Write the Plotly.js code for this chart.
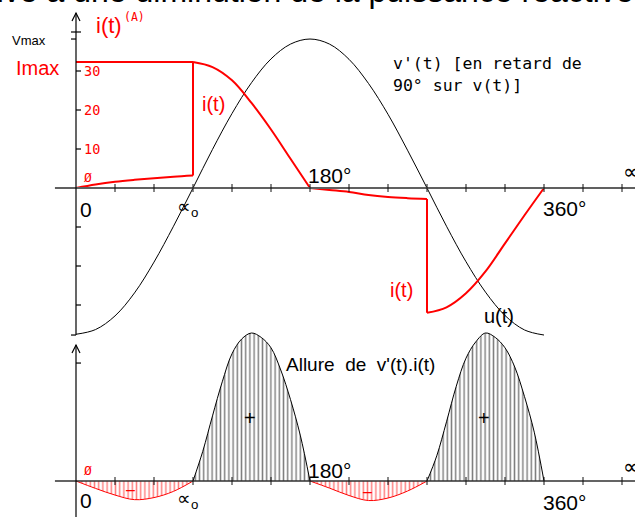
<!DOCTYPE html>
<html>
<head>
<meta charset="utf-8">
<script src="https://cdn.plot.ly/plotly-3.0.1.min.js"></script>
<style>
  html, body { margin: 0; padding: 0; background: #fff; }
  #chart { width: 635px; height: 517px; }
</style>
</head>
<body>
<div id="chart"></div>
<script>
// ---- Data -------------------------------------------------------------
// Lagging voltage v'(t) (90° behind v(t)), plotted on the current scale
const vAngle = [0, 15, 30, 45, 60, 75, 90, 105, 120, 135, 150, 165, 180,
                195, 210, 225, 240, 255, 270, 285, 300, 315, 330, 345, 360];
const vValue = [-37.5, -36.3, -32.8, -26.9, -19.0, -9.8, 0, 9.9, 19.1, 27.0, 33.1, 36.9, 38.2,
                36.9, 33.0, 26.8, 18.9, 9.7, 0, -9.8, -18.9, -26.7, -32.7, -36.4, -37.7];

// Current i(t) in A; a repeated angle is a step (firing at α0 and α0 + 180°)
const iAngle = [0, 15, 30, 45, 60, 75, 90, 90, 105, 120, 135, 150, 165, 180,
                195, 210, 225, 240, 255, 270, 270, 285, 300, 315, 330, 345, 360];
const iValue = [0, 0.9, 1.6, 2.1, 2.5, 2.9, 3.2, 32.3, 31.0, 27.6, 21.8, 15.0, 7.5, 0,
                -0.5, -1.0, -1.8, -2.3, -2.6, -2.8, -32.0, -30.6, -27.0, -21.4, -14.2, -7.0, 0];

// Imax plateau
const imaxAngle = [0, 90];
const imaxValue = [32.3, 32.3];

// Shape of the product v'(t).i(t) (relative units, peak = 100)
const pAngle = [0, 15, 30, 45, 60, 75, 90,
                97.5, 105, 112.5, 120, 127.5, 135, 142.5, 150, 157.5, 165, 172.5, 180,
                195, 210, 225, 240, 255, 270,
                277.5, 285, 292.5, 300, 307.5, 315, 322.5, 330, 337.5, 345, 352.5, 360];
const pValue = [0, -5.0, -9.5, -12.6, -11.2, -7.0, 0,
                20, 44, 67, 86, 96, 100, 97, 90, 75, 55, 31, 0,
                -4.8, -9.8, -13.2, -11.5, -6.8, 0,
                17, 40, 64, 83, 94, 100, 97, 90, 77, 57, 33, 0];

// Axis graduations
const xTicks = [30, 60, 90, 120, 150, 180, 210, 240, 270, 300, 330, 360, 390, 420];
const yTicksRight = [40, 30, 20, 10, -10, -20, -30];
const yTicksLeft = [40, 38.2, -37.7];
const yTickLabelValues = [30, 20, 10];
const vmaxLevel = 38.2;
const imaxLevel = 32.3;

// ---- Helpers ----------------------------------------------------------
const RED = '#ff0000';
const SANS = 'Liberation Sans, Arial, sans-serif';
const MONO = 'DejaVu Sans Mono, monospace';

// split a path into smooth runs (broken at steps and at zero crossings,
// where the waveform has a corner) and vertical steps
function splitSteps(xs, ys) {
  const smooth = [], steps = [];
  let cur = { x: [xs[0]], y: [ys[0]] };
  for (let k = 1; k < xs.length; k++) {
    if (xs[k] === xs[k - 1]) {
      smooth.push(cur);
      steps.push({ x: [xs[k - 1], xs[k]], y: [ys[k - 1], ys[k]] });
      cur = { x: [xs[k]], y: [ys[k]] };
    } else {
      cur.x.push(xs[k]); cur.y.push(ys[k]);
      if (ys[k] === 0 && k < xs.length - 1) {
        smooth.push(cur);
        cur = { x: [xs[k]], y: [ys[k]] };
      }
    }
  }
  smooth.push(cur);
  return { smooth, steps };
}

// split the product curve into its lobes between zero crossings
function lobes(xs, ys) {
  const out = [];
  let cur = { x: [xs[0]], y: [ys[0]] };
  for (let k = 1; k < xs.length; k++) {
    cur.x.push(xs[k]); cur.y.push(ys[k]);
    if (ys[k] === 0) {
      out.push(cur);
      cur = { x: [xs[k]], y: [ys[k]] };
    }
  }
  return out;
}

const traces = [];

// v'(t)
traces.push({
  x: vAngle, y: vValue, type: 'scatter', mode: 'lines',
  line: { color: '#000', width: 1, shape: 'spline', smoothing: 1 },
  hoverinfo: 'skip'
});

// Imax plateau
traces.push({
  x: imaxAngle, y: imaxValue, type: 'scatter', mode: 'lines',
  line: { color: RED, width: 2 }, hoverinfo: 'skip'
});

// i(t)
const iParts = splitSteps(iAngle, iValue);
iParts.smooth.forEach(p => traces.push({
  x: p.x, y: p.y, type: 'scatter', mode: 'lines',
  line: { color: RED, width: 2, shape: 'spline', smoothing: 1 }, hoverinfo: 'skip'
}));
iParts.steps.forEach(p => traces.push({
  x: p.x, y: p.y, type: 'scatter', mode: 'lines',
  line: { color: RED, width: 2 }, hoverinfo: 'skip'
}));

// v'(t).i(t) lobes with vertical hatching
lobes(pAngle, pValue).forEach(l => {
  const neg = l.y.some(v => v < 0);
  const col = neg ? RED : '#000';
  traces.push({
    x: l.x, y: l.y, yaxis: 'y2', type: 'scatter', mode: 'lines',
    line: { color: col, width: 1, shape: 'spline', smoothing: 1 },
    fill: 'tozeroy', fillcolor: 'rgba(0,0,0,0)',
    fillpattern: { shape: '|', size: 4.2, solidity: 0.35, fgcolor: col, bgcolor: 'rgba(0,0,0,0)', fillmode: 'overlay' },
    hoverinfo: 'skip'
  });
});

// ---- Axes drawn as shapes ---------------------------------------------
const shapes = [];
const AX_TOP = 44.87, AX_BOT = -37.69;   // vertical extent of upper current axis
const AX2_TOP = 91.9;                    // tip of the lower axis

shapes.push({ type: 'line', xref: 'x', yref: 'y', x0: -16.2, x1: 440, y0: 0, y1: 0,
              line: { color: '#606060', width: 2 } });
shapes.push({ type: 'line', xref: 'x', yref: 'y2', x0: -16.2, x1: 440, y0: 0, y1: 0,
              line: { color: '#303030', width: 1.6 } });
shapes.push({ type: 'line', xref: 'x', yref: 'y', x0: 0, x1: 0, y0: AX_BOT, y1: AX_TOP,
              line: { color: '#000', width: 1.2 } });
shapes.push({ type: 'line', xref: 'x', yref: 'y2', x0: 0, x1: 0, y0: -40, y1: AX2_TOP,
              line: { color: '#000', width: 1.2 } });
// arrow heads
[['y', AX_TOP], ['y2', AX2_TOP]].forEach(([ref, yv]) => shapes.push({
  type: 'path', xref: 'x', yref: ref,
  xsizemode: 'pixel', xanchor: 0, ysizemode: 'pixel', yanchor: yv,
  path: 'M-4,-8L0,0L4,-8', line: { color: '#000', width: 1.2 }
}));
// x graduations on both time axes
['y', 'y2'].forEach(ref => xTicks.forEach(d => shapes.push({
  type: 'line', xref: 'x', yref: ref, x0: d, x1: d,
  ysizemode: 'pixel', yanchor: 0, y0: -4, y1: 4,
  line: { color: '#111', width: 1 }
})));
// y graduations
yTicksRight.forEach(v => shapes.push({
  type: 'line', xref: 'x', yref: 'y', y0: v, y1: v,
  xsizemode: 'pixel', xanchor: 0, x0: 0, x1: 5, line: { color: '#000', width: 1.2 }
}));
yTicksLeft.forEach(v => shapes.push({
  type: 'line', xref: 'x', yref: 'y', y0: v, y1: v,
  xsizemode: 'pixel', xanchor: 0, x0: -5, x1: 0, line: { color: '#000', width: 1.2 }
}));
shapes.push({
  type: 'line', xref: 'x', yref: 'y2', y0: 79.7, y1: 79.7,
  xsizemode: 'pixel', xanchor: 0, x0: 0, x1: 5, line: { color: '#000', width: 1.2 }
});

// ---- Labels -------------------------------------------------------------
const annotations = [];
function lab(text, x, y, o) {
  o = o || {};
  annotations.push(Object.assign({
    text: text, x: x, y: y, xref: 'x', yref: o.yref || 'y',
    xanchor: o.xanchor || 'left', yanchor: 'middle', showarrow: false,
    font: { family: o.family || SANS, size: o.size || 21, color: o.color || '#000' }
  }, o.extra || {}));
}

// upper panel
lab('i(t)', 13.6, 41.6, { color: RED, size: 22 });
lab('(A)', 35.4, 43.8, { color: RED, size: 11.5, family: MONO });
lab('Vmax', -21.2, vmaxLevel - 0.5, { xanchor: 'right', size: 13 });
lab('Imax', -11.6, imaxLevel - 1.6, { xanchor: 'right', size: 20, color: RED });
yTickLabelValues.forEach(v => lab(String(v), 4.6, v, { color: RED, size: 13.5, family: MONO }));
lab('Ø', 4.6, 2.6, { color: RED, size: 13, family: MONO });
lab('i(t)', 95.0, 21.5, { color: RED, size: 20 });
lab('180°', 176.8, 3.1);
lab('∝', 419.5, 4.2, { size: 21 });
lab("v'(t) [en retard de", 242.5, 31.8, { family: MONO, size: 16.5 });
lab('90° sur v(t)]', 242.5, 26.4, { family: MONO, size: 16.5 });
lab('0', 1.6, -5.4);
lab('∝<sub>o</sub>', 76.5, -5.0, { size: 19 });
lab('360°', 357.7, -5.2);
lab('i(t)', 240.2, -26.2, { color: RED, size: 20 });
lab('u(t)', 312.4, -32.9, { size: 20 });

// lower panel
lab("Allure\u00a0 de\u00a0 v'(t).i(t)", 160.2, 78.4, { yref: 'y2', size: 19 });
lab('Ø', 4.6, 6.8, { yref: 'y2', color: RED, size: 13, family: MONO });
lab('180°', 176.8, 7.4, { yref: 'y2' });
lab('∝', 419.5, 10.1, { yref: 'y2', size: 21 });
lab('0', 1.6, -13.5, { yref: 'y2' });
lab('∝<sub>o</sub>', 76.5, -12.8, { yref: 'y2', size: 19 });
lab('360°', 357.7, -14.2, { yref: 'y2' });
// sign of each lobe
lab('+', 133.8, 42.5, { yref: 'y2', xanchor: 'center', size: 20 });
lab('+', 313.8, 42.5, { yref: 'y2', xanchor: 'center', size: 20 });
lab('–', 42.0, -5.6, { yref: 'y2', xanchor: 'center', size: 16, color: RED });
lab('–', 224.0, -6.8, { yref: 'y2', xanchor: 'center', size: 16, color: RED });

// heading running above the figure
annotations.push({
  text: 'Relative à une diminution de la puissance réactive',
  xref: 'paper', yref: 'paper', x: 0, y: 1, xanchor: 'left', yanchor: 'bottom',
  xshift: -80, yshift: -11, showarrow: false,
  font: { family: SANS, size: 32, color: '#000' }
});

const layout = {
  width: 635, height: 517,
  margin: { l: 0, r: 0, t: 0, b: 0 },
  paper_bgcolor: '#fff', plot_bgcolor: '#fff',
  showlegend: false,
  xaxis: { range: [-58.4615, 430], visible: false, fixedrange: true },
  yaxis: { range: [-84.359, 48.205], visible: false, fixedrange: true },
  yaxis2: { range: [-24.324, 325.0], overlaying: 'y', visible: false, fixedrange: true },
  shapes: shapes,
  annotations: annotations
};

Plotly.newPlot('chart', traces, layout, { staticPlot: true, displayModeBar: false });
</script>
</body>
</html>
